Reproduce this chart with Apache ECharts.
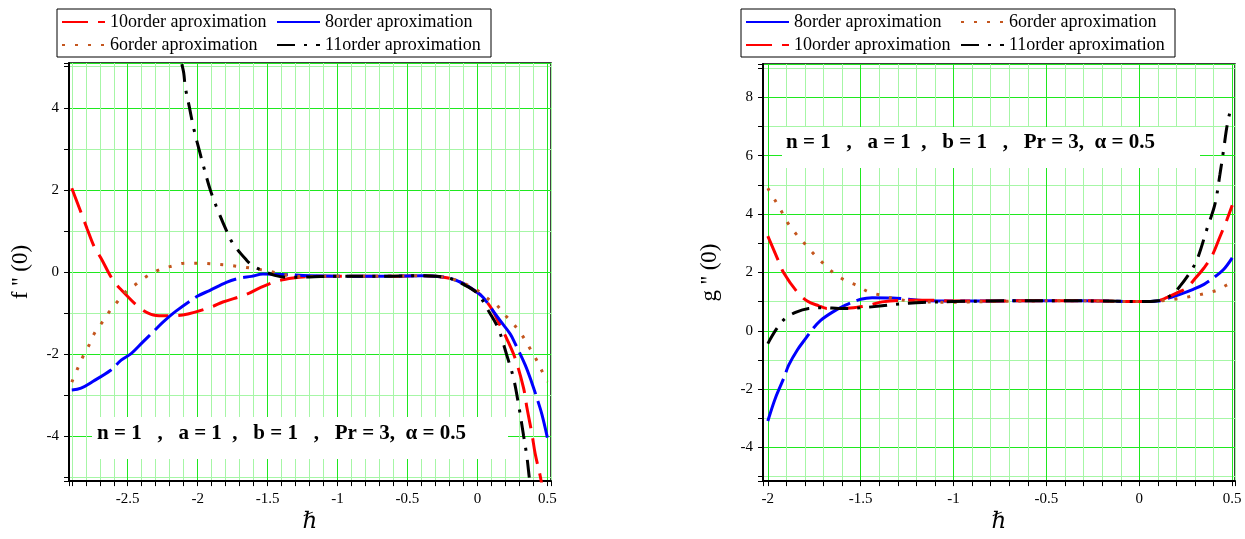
<!DOCTYPE html>
<html>
<head>
<meta charset="utf-8">
<script src="https://cdn.jsdelivr.net/npm/echarts@6/dist/echarts.min.js"></script>
<style>
  html, body { margin: 0; padding: 0; background: #fff; }
  #chart { width: 1245px; height: 539px; }
</style>
</head>
<body>
<div id="chart"></div>
<script>
// ---- f''(0) versus h, four approximation orders ----
const fH10 = [-2.9, -2.834, -2.79, -2.739, -2.69, -2.607, -2.547, -2.416, -2.333, -2.25, -2.167, -2.07, -1.903, -1.82, -1.652, -1.556, -1.437, -1.318, -1.2, -1.0, -0.8, -0.6, -0.4, -0.3, -0.2, -0.1, 0, 0.043, 0.103, 0.163, 0.21, 0.27, 0.33, 0.354, 0.39, 0.413, 0.45, 0.47];
const fV10 = [2.04, 1.45, 1.05, 0.61, 0.33, -0.19, -0.43, -0.87, -1.03, -1.065, -1.065, -1.02, -0.85, -0.73, -0.545, -0.385, -0.225, -0.146, -0.11, -0.1, -0.1, -0.1, -0.09, -0.1, -0.15, -0.28, -0.5, -0.625, -0.9, -1.305, -1.625, -2.105, -2.825, -3.305, -3.945, -4.425, -4.985, -5.4];

const fH8 = [-2.9, -2.834, -2.75, -2.62, -2.547, -2.476, -2.393, -2.309, -2.25, -2.153, -2.0, -1.915, -1.795, -1.7, -1.616, -1.533, -1.4, -1.2, -1.0, -0.8, -0.6, -0.4, -0.3, -0.2, -0.1, 0, 0.043, 0.103, 0.163, 0.234, 0.27, 0.342, 0.39, 0.425, 0.461, 0.5];
const fV8 = [-2.87, -2.825, -2.665, -2.385, -2.145, -1.985, -1.705, -1.425, -1.225, -0.945, -0.585, -0.45, -0.25, -0.146, -0.105, -0.05, -0.06, -0.09, -0.1, -0.1, -0.1, -0.09, -0.1, -0.15, -0.28, -0.5, -0.625, -0.905, -1.185, -1.505, -1.745, -2.265, -2.705, -3.065, -3.465, -4.03];

const fH6 = [-2.9, -2.858, -2.822, -2.774, -2.738, -2.683, -2.63, -2.57, -2.51, -2.435, -2.357, -2.274, -2.178, -2.09, -1.99, -1.903, -1.8, -1.706, -1.616, -1.52, -1.43, -1.337, -1.2, -1.0, -0.8, -0.6, -0.4, -0.3, -0.2, -0.1, 0, 0.055, 0.139, 0.198, 0.258, 0.318, 0.365, 0.413, 0.454, 0.5];
const fV6 = [-2.68, -2.345, -2.07, -1.76, -1.49, -1.225, -0.96, -0.705, -0.466, -0.28, -0.09, 0.055, 0.15, 0.215, 0.215, 0.2, 0.175, 0.135, 0.095, 0.04, -0.025, -0.09, -0.11, -0.1, -0.1, -0.1, -0.09, -0.1, -0.15, -0.27, -0.45, -0.6, -0.81, -1.05, -1.265, -1.53, -1.8, -2.08, -2.36, -2.67];

const fH11 = [-2.16, -2.118, -2.1, -2.088, -2.059, -2.03, -1.986, -1.957, -1.91, -1.867, -1.795, -1.748, -1.652, -1.604, -1.533, -1.45, -1.35, -1.2, -1.0, -0.8, -0.6, -0.4, -0.3, -0.2, -0.1, 0, 0.079, 0.15, 0.21, 0.258, 0.294, 0.33, 0.354, 0.37, 0.39];
const fV11 = [6.0, 5.14, 4.85, 4.49, 4.01, 3.52, 2.93, 2.56, 2.0, 1.6, 1.015, 0.694, 0.295, 0.15, 0.03, -0.08, -0.13, -0.12, -0.1, -0.1, -0.1, -0.09, -0.1, -0.15, -0.3, -0.52, -0.945, -1.385, -2.025, -2.585, -3.225, -3.985, -4.505, -4.985, -5.6];

// ---- g''(0) versus h, four approximation orders ----
const gH8 = [-2.0, -1.959, -1.914, -1.887, -1.842, -1.797, -1.758, -1.717, -1.654, -1.582, -1.5, -1.439, -1.33, -1.242, -1.17, -1.0, -0.8, -0.6, -0.4, -0.2, 0, 0.1, 0.138, 0.219, 0.29, 0.348, 0.398, 0.452, 0.5];
const gV8 = [-3.09, -2.3, -1.62, -1.17, -0.665, -0.27, 0.065, 0.35, 0.63, 0.88, 1.08, 1.135, 1.125, 1.08, 1.04, 1.02, 1.02, 1.03, 1.03, 1.02, 1.0, 1.02, 1.08, 1.25, 1.42, 1.59, 1.81, 2.09, 2.5];

const gH10 = [-2.0, -1.944, -1.914, -1.842, -1.788, -1.726, -1.681, -1.6, -1.528, -1.466, -1.385, -1.277, -1.13, -1.0, -0.8, -0.6, -0.4, -0.2, 0, 0.1, 0.147, 0.2, 0.255, 0.299, 0.348, 0.389, 0.434, 0.47, 0.5];
const gV10 = [3.24, 2.41, 1.98, 1.33, 1.02, 0.855, 0.765, 0.765, 0.8, 0.855, 0.99, 1.045, 1.05, 1.02, 1.02, 1.03, 1.03, 1.02, 1.0, 1.03, 1.135, 1.29, 1.47, 1.78, 2.15, 2.54, 3.22, 3.78, 4.3];

const gH11 = [-2.0, -1.955, -1.909, -1.851, -1.78, -1.69, -1.618, -1.528, -1.385, -1.313, -1.242, -1.17, -1.0, -0.8, -0.6, -0.4, -0.2, 0, 0.1, 0.165, 0.219, 0.282, 0.317, 0.362, 0.407, 0.434, 0.455, 0.47, 0.484, 0.497];
const gV11 = [-0.44, 0.045, 0.405, 0.63, 0.765, 0.79, 0.765, 0.775, 0.855, 0.91, 0.945, 0.97, 1.0, 1.02, 1.03, 1.03, 1.02, 1.0, 1.03, 1.19, 1.53, 2.09, 2.54, 3.45, 4.34, 5.36, 6.26, 6.94, 7.39, 7.67];

const gH6 = [-2.0, -1.962, -1.926, -1.89, -1.847, -1.8, -1.753, -1.7, -1.645, -1.586, -1.52, -1.457, -1.389, -1.317, -1.2, -1.0, -0.8, -0.6, -0.4, -0.2, 0, 0.1, 0.21, 0.28, 0.348, 0.416, 0.478, 0.5];
const gV6 = [4.885, 4.48, 4.09, 3.67, 3.31, 2.97, 2.635, 2.3, 1.98, 1.73, 1.55, 1.33, 1.215, 1.1, 1.0, 0.98, 1.0, 1.02, 1.03, 1.02, 1.0, 1.02, 1.1, 1.18, 1.27, 1.385, 1.59, 1.62];

// series names, as shown in the legends
const N8 = '8order aproximation';
const N10 = '10order aproximation';
const N6 = '6order aproximation';
const N11 = '11order aproximation';
const legendLeft = [N10, N8, N6, N11];
const legendRight = [N8, N6, N10, N11];
const paramText = 'n = 1   ,   a = 1  ,   b = 1   ,   Pr = 3,  \u03b1 = 0.5';

const SERIF = 'Liberation Serif';
const MAJ = '#1fe81f';
const MIN = '#a6f6a6';

const STYLE = {
  [N10]: { color: '#ff0000', type: [26, 10] },
  [N8]: { color: '#0000ff', type: [45, 7] },
  [N6]: { color: '#c4561e', type: [3, 10] },
  [N11]: { color: '#000000', type: [18, 9, 3, 9] }
};

function pairs(xs, ys) { return xs.map((x, i) => [x, ys[i]]); }

function curve(name, xs, ys, idx) {
  const s = STYLE[name];
  return {
    name, type: 'line', xAxisIndex: idx, yAxisIndex: idx,
    data: pairs(xs, ys), symbol: 'none', smooth: 0.35,
    color: s.color, silent: true, clip: true,
    lineStyle: { color: s.color, width: 3, type: s.type, cap: 'butt' }
  };
}

const half = v => Math.abs(v * 2 - Math.round(v * 2)) < 1e-6;
const even = v => Math.abs(v / 2 - Math.round(v / 2)) < 1e-6;
const numText = v => String(Math.round(v * 10) / 10);

// split lines cycle through the colour list: every fifth (x) or second (y) line is a major one
function xAxisCfg(idx, min, max, splitNumber, colors) {
  return {
    type: 'value', gridIndex: idx, min, max, splitNumber,
    name: '\u210f', nameLocation: 'middle', nameGap: 28,
    nameTextStyle: { fontFamily: 'DejaVu Serif', fontStyle: 'italic', fontSize: 23, color: '#000' },
    axisLine: { show: true, onZero: false, lineStyle: { color: '#000', width: 2 } },
    axisTick: { show: true, inside: false, length: 5, lineStyle: { color: '#000', width: 1 } },
    axisLabel: {
      interval: 0, margin: 10, color: '#000', fontFamily: SERIF, fontSize: 15,
      formatter: v => (half(v) ? numText(v) : '')
    },
    splitLine: { show: true, lineStyle: { color: colors, width: 1 } }
  };
}

function yAxisCfg(idx, min, max, splitNumber, colors, name, gap) {
  return {
    type: 'value', gridIndex: idx, min, max, splitNumber,
    name, nameLocation: 'middle', nameGap: gap,
    nameTextStyle: { fontFamily: SERIF, fontSize: 23, color: '#000' },
    axisLine: { show: true, onZero: false, lineStyle: { color: '#000', width: 2 } },
    axisTick: { show: true, inside: false, length: 5, lineStyle: { color: '#000', width: 1 } },
    axisLabel: {
      interval: 0, margin: 10, color: '#000', fontFamily: SERIF, fontSize: 15,
      formatter: v => (even(v) ? numText(v) : '')
    },
    splitLine: { show: true, lineStyle: { color: colors, width: 1 } }
  };
}

function legendCfg(left, names) {
  return {
    left, top: 9, width: 432, orient: 'horizontal', selectedMode: false,
    itemWidth: 43, itemHeight: 12, itemGap: 5,
    padding: [4, 5, 3, 4],
    borderColor: '#000', borderWidth: 1, backgroundColor: '#fff',
    itemStyle: { opacity: 0 },
    textStyle: { fontFamily: SERIF, fontSize: 18, color: '#000', width: 161, lineHeight: 17 },
    data: names
  };
}

const chart = echarts.init(document.getElementById('chart'), null, { renderer: 'canvas' });

chart.setOption({
  backgroundColor: '#fff',
  animation: false,
  grid: [
    { left: 69, top: 63, width: 482, height: 425, show: true, borderColor: '#000', borderWidth: 1.5, backgroundColor: '#fff' },
    { left: 763, top: 64, width: 472, height: 424, show: true, borderColor: '#000', borderWidth: 1.5, backgroundColor: '#fff' }
  ],
  xAxis: [
    xAxisCfg(0, -2.92, 0.526, 34, [MAJ, MIN, MIN, MIN, MIN]),
    xAxisCfg(1, -2.026, 0.515, 25, [MIN, MAJ, MIN, MIN, MIN])
  ],
  yAxis: [
    yAxisCfg(0, -5.09, 5.09, 10, [MAJ, MIN], "f '' (0)", 37),
    yAxisCfg(1, -5.15, 9.14, 14, [MAJ, MIN], "g '' (0)", 42)
  ],
  legend: [legendCfg(57, legendLeft), legendCfg(741, legendRight)],
  series: [
    curve(N10, fH10, fV10, 0),
    curve(N8, fH8, fV8, 0),
    curve(N6, fH6, fV6, 0),
    curve(N11, fH11, fV11, 0),
    curve(N8, gH8, gV8, 1),
    curve(N10, gH10, gV10, 1),
    curve(N6, gH6, gV6, 1),
    curve(N11, gH11, gV11, 1)
  ],
  graphic: [
    { type: 'rect', z: 1, shape: { x: 92, y: 417, width: 416, height: 42 }, style: { fill: '#fff' } },
    { type: 'text', z: 3, x: 97, y: 434, style: { text: paramText, font: 'bold 21px "Liberation Serif"', fill: '#000', verticalAlign: 'middle' } },
    { type: 'rect', z: 1, shape: { x: 782, y: 127, width: 418, height: 41 }, style: { fill: '#fff' } },
    { type: 'text', z: 3, x: 786, y: 143, style: { text: paramText, font: 'bold 21px "Liberation Serif"', fill: '#000', verticalAlign: 'middle' } }
  ]
});
</script>
</body>
</html>
